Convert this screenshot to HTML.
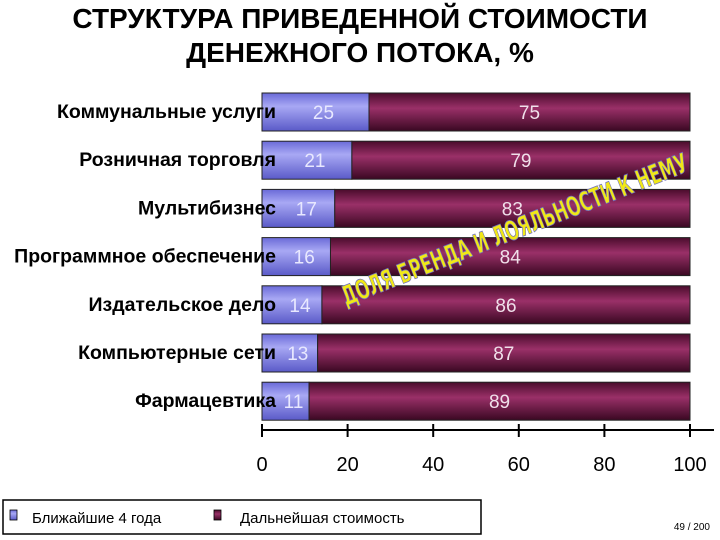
<!DOCTYPE html>
<html><head><meta charset="utf-8">
<style>
body{margin:0;background:#fff;}
#wrap{position:relative;width:720px;height:540px;overflow:hidden;font-family:"Liberation Sans",sans-serif;}
</style></head>
<body>
<div id="wrap">
<svg id="chart" width="720" height="540">
<defs>
<linearGradient id="gb" x1="0" y1="0" x2="0" y2="1">
<stop offset="0" stop-color="#6a6ad8"/><stop offset="0.35" stop-color="#a8a8f4"/><stop offset="1" stop-color="#5a5ac8"/></linearGradient>
<linearGradient id="gm" x1="0" y1="0" x2="0" y2="1">
<stop offset="0" stop-color="#4a0c2c"/><stop offset="0.4" stop-color="#9a3068"/><stop offset="1" stop-color="#3a0822"/></linearGradient>
</defs>
<text x="360" y="28" text-anchor="middle" font-size="28" font-weight="bold" fill="#000">СТРУКТУРА ПРИВЕДЕННОЙ СТОИМОСТИ</text>
<text x="360" y="62" text-anchor="middle" font-size="28" font-weight="bold" fill="#000">ДЕНЕЖНОГО ПОТОКА, %</text>
<g id="bars"></g>
<g id="axis"></g>
<text transform="translate(346,306) rotate(-21.5)" font-size="27" font-weight="bold" fill="#f0e818" stroke="#7070c0" stroke-width="0.8" font-family="'DejaVu Sans Condensed','Liberation Sans Narrow',sans-serif" textLength="370" lengthAdjust="spacingAndGlyphs">ДОЛЯ БРЕНДА И ЛОЯЛЬНОСТИ К НЕМУ</text>
<rect x="3" y="500" width="478" height="34" fill="#fff" stroke="#000" stroke-width="1.5"/>
<g>
<rect x="10" y="510" width="7" height="10" fill="url(#gb)" stroke="#000" stroke-width="0.8"/>
<text x="32" y="523" font-size="15" fill="#000">Ближайшие 4 года</text></g>
<g>
<rect x="214" y="510" width="7" height="10" fill="url(#gm)" stroke="#000" stroke-width="0.8"/>
<text x="240" y="523" font-size="15" fill="#000">Дальнейшая стоимость</text></g>
<text x="710" y="530" text-anchor="end" font-size="10" fill="#000">49 / 200</text>
</svg>
<script>
const categories=["Коммунальные услуги","Розничная торговля","Мультибизнес","Программное обеспечение","Издательское дело","Компьютерные сети","Фармацевтика"];
const nearValues=[25,21,17,16,14,13,11];
const farValues=[75,79,83,84,86,87,89];
const ticks=[0,20,40,60,80,100];
const NS="http://www.w3.org/2000/svg";
const x0=262,x1=690,top0=93,pitch=48.2,bh=38;
const xs=v=>x0+(x1-x0)*v/100;
const yb=i=>top0+i*pitch;
const bars=document.getElementById('bars');
function mk(t,a,p){const e=document.createElementNS(NS,t);for(const k in a)e.setAttribute(k,a[k]);p.appendChild(e);return e;}
categories.forEach((c,i)=>{
 const y=yb(i);
 const g=mk('g',{},bars);
 
 
 const r1=mk('rect',{x:xs(0),y:y,width:xs(nearValues[i])-xs(0),height:bh,fill:'url(#gb)',stroke:'#222','stroke-width':1},g);
 
 
 const r2=mk('rect',{x:xs(nearValues[i]),y:y,width:xs(nearValues[i]+farValues[i])-xs(nearValues[i]),height:bh,fill:'url(#gm)',stroke:'#222','stroke-width':1},g);
 
 
 const t1=mk('text',{x:xs(nearValues[i]/2)+8,y:y+bh/2+7,'text-anchor':'middle','font-size':19,fill:'#e8e8ff'},g);t1.textContent=nearValues[i];
 
 
 const t2=mk('text',{x:xs(nearValues[i]+farValues[i]/2),y:y+bh/2+7,'text-anchor':'middle','font-size':19,fill:'#f0e0ea'},g);t2.textContent=farValues[i];
 
 
});
categories.forEach((c,i)=>{
 const y=yb(i);
 const l=mk('text',{x:x0+14,y:y+bh/2+6,'text-anchor':'end','font-size':19.5,'font-weight':'bold',fill:'#000'},bars);l.textContent=c;
 
 
});
const ax=document.getElementById('axis');
const al=mk('line',{x1:x0,y1:430,x2:714,y2:430,stroke:'#000','stroke-width':2},ax);


ticks.forEach(v=>{
 mk('line',{x1:xs(v),y1:424,x2:xs(v),y2:437,stroke:'#000','stroke-width':2},ax);
 const t=mk('text',{x:xs(v),y:471,'text-anchor':'middle','font-size':20,fill:'#000'},ax);t.textContent=v;
 
 
});
</script>
</div>
</body></html>
